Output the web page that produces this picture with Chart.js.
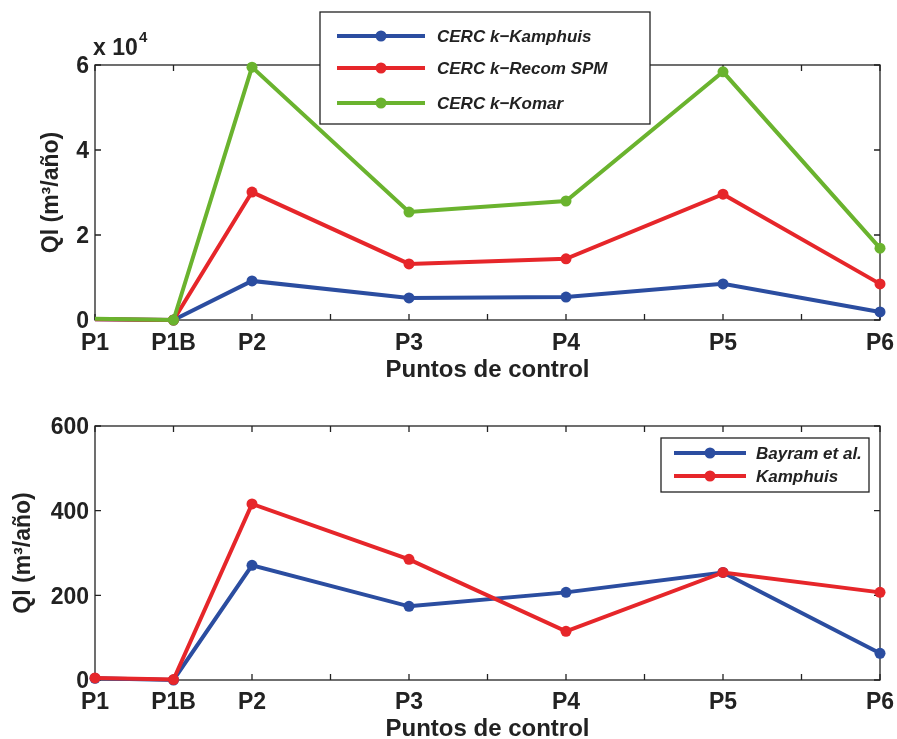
<!DOCTYPE html>
<html lang="es">
<head>
<meta charset="UTF-8" />
<title>Ql por punto de control</title>
<script src="https://cdn.jsdelivr.net/npm/chart.js@4.4.0/dist/chart.umd.min.js"></script>
<style>
  html, body { margin: 0; padding: 0; background: #fff; overflow: hidden; }
  #wrap { position: relative; width: 897px; height: 739px; overflow: hidden; }
  canvas { position: absolute; left: 0; }
  #chartTop { top: 0; }
  #chartBottom { top: 395px; }
</style>
</head>
<body>
<div id="wrap">
  <canvas id="chartTop" width="897" height="395"></canvas>
  <canvas id="chartBottom" width="897" height="360"></canvas>
</div>
<script>
// puntos de control y su posicion en el eje x
const puntos = ['P1', 'P1B', 'P2', 'P3', 'P4', 'P5', 'P6'];
const posX = [0, 0.5, 1, 2, 3, 4, 5];

// grafico superior (m3/año)
const cercKamphuis = [200, 0, 9200, 5200, 5400, 8500, 1900];
const cercRecomSPM = [200, 0, 30100, 13200, 14400, 29600, 8500];
const cercKomar = [300, 0, 59500, 25400, 28000, 58400, 16900];
const yTicksTop = [0, 20000, 40000, 60000];

// grafico inferior (m3/año)
const bayram = [4, 0, 271, 174, 207, 254, 63];
const kamphuis = [5, 1, 416, 285, 115, 254, 207];
const yTicksBottom = [0, 200, 400, 600];

const AZUL = '#2b4da0';
const ROJO = '#e6262a';
const VERDE = '#6ab32e';
const TINTA = '#222222';
const FUENTE = "'Liberation Sans', Arial, sans-serif";

function serie(label, vals, color, order, hideFirst) {
  return {
    label: label,
    data: vals.map((v, i) => ({ x: posX[i], y: v })),
    borderColor: color,
    backgroundColor: color,
    borderWidth: 4,
    pointRadius: vals.map((v, i) => (hideFirst && i === 0 ? 0 : 5.5)),
    pointBorderWidth: 0,
    pointBackgroundColor: color,
    tension: 0,
    clip: false,
    order: order
  };
}

// caja + marcas hacia dentro (estilo matlab)
const marco = {
  id: 'marco',
  beforeDatasetsDraw(chart) {
    const { ctx, chartArea: a, scales } = chart;
    ctx.save();
    ctx.strokeStyle = TINTA;
    ctx.lineWidth = 1.3;
    ctx.strokeRect(a.left, a.top, a.right - a.left, a.bottom - a.top);
    ctx.beginPath();
    scales.x.ticks.forEach(t => {
      const px = scales.x.getPixelForValue(t.value);
      ctx.moveTo(px, a.bottom); ctx.lineTo(px, a.bottom - 6);
      ctx.moveTo(px, a.top); ctx.lineTo(px, a.top + 6);
    });
    scales.y.ticks.forEach(t => {
      const py = scales.y.getPixelForValue(t.value);
      ctx.moveTo(a.left, py); ctx.lineTo(a.left + 6, py);
      ctx.moveTo(a.right, py); ctx.lineTo(a.right - 6, py);
    });
    ctx.stroke();
    ctx.restore();
  }
};

const leyenda = {
  id: 'leyenda',
  afterDatasetsDraw(chart) {
    const o = chart.options.plugins.leyenda;
    if (!o) return;
    const ctx = chart.ctx;
    ctx.save();
    ctx.fillStyle = '#fff';
    ctx.fillRect(o.x0, o.y0, o.x1 - o.x0, o.y1 - o.y0);
    ctx.strokeStyle = TINTA;
    ctx.lineWidth = 1.3;
    ctx.strokeRect(o.x0, o.y0, o.x1 - o.x0, o.y1 - o.y0);
    chart.data.datasets.forEach((ds, i) => {
      const y = o.rows[i];
      ctx.strokeStyle = ds.borderColor;
      ctx.lineWidth = 4;
      ctx.beginPath();
      ctx.moveTo(o.lineX0, y); ctx.lineTo(o.lineX1, y);
      ctx.stroke();
      ctx.fillStyle = ds.borderColor;
      ctx.beginPath();
      ctx.arc(o.markX, y, 5.5, 0, Math.PI * 2);
      ctx.fill();
      ctx.fillStyle = TINTA;
      ctx.font = 'italic bold 17px ' + FUENTE;
      ctx.textBaseline = 'middle';
      ctx.fillText(ds.label, o.textX, y + 1);
    });
    ctx.restore();
  }
};

// "x 10^4" sobre el eje y del grafico superior
const exponente = {
  id: 'exponente',
  afterDraw(chart) {
    if (!chart.options.plugins.exponente) return;
    const ctx = chart.ctx;
    ctx.save();
    ctx.fillStyle = TINTA;
    ctx.textBaseline = 'alphabetic';
    ctx.font = 'bold 23px ' + FUENTE;
    ctx.fillText('x 10', 93, 55);
    ctx.font = 'bold 15px ' + FUENTE;
    ctx.fillText('4', 139, 42);
    ctx.restore();
  }
};

function opciones(cfg) {
  return {
    responsive: false,
    animation: false,
    layout: { padding: { left: 0, right: 17, top: cfg.padTop, bottom: 0 } },
    plugins: {
      legend: { display: false },
      tooltip: { enabled: false },
      leyenda: cfg.leyenda,
      exponente: cfg.exponente
    },
    scales: {
      x: {
        type: 'linear',
        min: 0,
        max: 5,
        afterFit: s => {
          s.height = cfg.xHeight;
          s.paddingLeft = 0;
          s.paddingRight = 0;
        },
        grid: { display: false, tickLength: 0 },
        border: { display: false },
        ticks: {
          stepSize: 0.5,
          autoSkip: false,
          maxRotation: 0,
          padding: cfg.xTickPad,
          color: TINTA,
          font: { family: FUENTE, size: 23, weight: 'bold' },
          callback: v => {
            const i = posX.indexOf(v);
            return i >= 0 ? puntos[i] : '';
          }
        },
        title: {
          display: true,
          text: 'Puntos de control',
          color: TINTA,
          font: { family: FUENTE, size: 24, weight: 'bold' },
          padding: { top: 0, bottom: cfg.xTitlePad }
        }
      },
      y: {
        min: cfg.yTicks[0],
        max: cfg.yTicks[cfg.yTicks.length - 1],
        afterFit: s => {
          s.width = 95;
          s.paddingTop = 0;
          s.paddingBottom = 0;
        },
        afterBuildTicks: s => { s.ticks = cfg.yTicks.map(v => ({ value: v })); },
        grid: { display: false, tickLength: 0 },
        border: { display: false },
        ticks: {
          padding: 6,
          labelOffset: 2,
          color: TINTA,
          font: { family: FUENTE, size: 23, weight: 'bold' },
          callback: v => String(v / cfg.yDiv)
        },
        title: {
          display: true,
          text: 'Ql (m³/año)',
          color: TINTA,
          font: { family: FUENTE, size: 23, weight: 'bold' },
          padding: { top: cfg.yTitlePad, bottom: 0 }
        }
      }
    }
  };
}

new Chart(document.getElementById('chartTop'), {
  type: 'line',
  data: {
    datasets: [
      serie('CERC k\u2212Kamphuis', cercKamphuis, AZUL, 3, true),
      serie('CERC k\u2212Recom SPM', cercRecomSPM, ROJO, 2, true),
      serie('CERC k\u2212Komar', cercKomar, VERDE, 1, true)
    ]
  },
  options: opciones({
    padTop: 65,
    xHeight: 75,
    xTickPad: 10,
    xTitlePad: 10,
    yTicks: yTicksTop,
    yDiv: 10000,
    yTitlePad: 38,
    exponente: true,
    leyenda: { x0: 320, y0: 12, x1: 650, y1: 124, rows: [36, 68, 103], lineX0: 337, lineX1: 425, markX: 381, textX: 437 }
  }),
  plugins: [marco, leyenda, exponente]
});

new Chart(document.getElementById('chartBottom'), {
  type: 'line',
  data: {
    datasets: [
      serie('Bayram et al.', bayram, AZUL, 2, false),
      serie('Kamphuis', kamphuis, ROJO, 1, false)
    ]
  },
  options: opciones({
    padTop: 31,
    xHeight: 75,
    xTickPad: 9,
    xTitlePad: 11,
    yTicks: yTicksBottom,
    yDiv: 1,
    yTitlePad: 10,
    exponente: false,
    leyenda: { x0: 661, y0: 43, x1: 869, y1: 97, rows: [58, 81], lineX0: 674, lineX1: 746, markX: 710, textX: 756 }
  }),
  plugins: [marco, leyenda, exponente]
});
</script>
</body>
</html>
